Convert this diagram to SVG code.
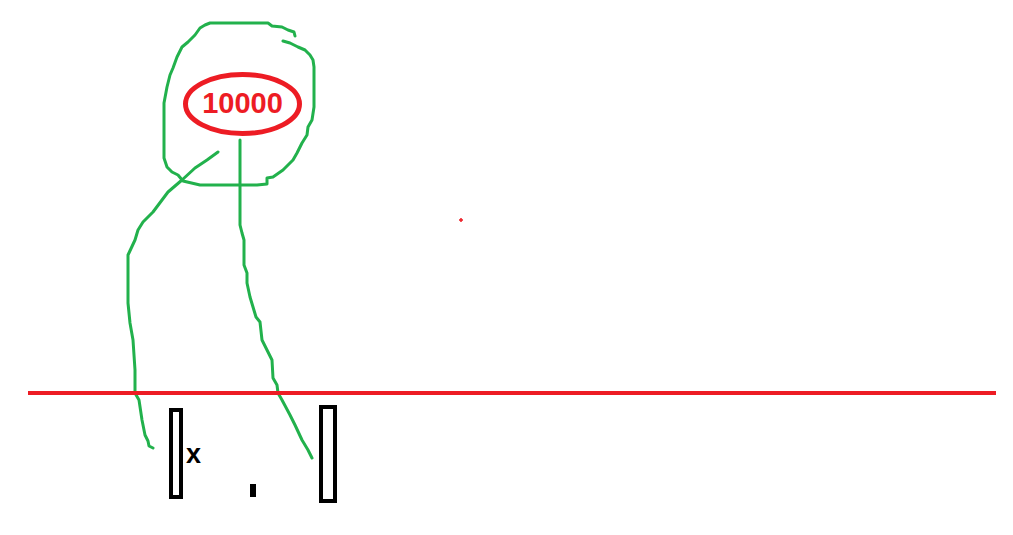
<svg xmlns="http://www.w3.org/2000/svg" width="1013" height="535" viewBox="0 0 1013 535">
<style>
.g{fill:none;stroke:#22B14C;stroke-width:3;stroke-linejoin:round;stroke-linecap:round}
.r{fill:none;stroke:#ED1C24}
.b{fill:none;stroke:#000;stroke-width:4}
.t{font-family:"Liberation Sans",Arial,sans-serif;font-weight:bold}
</style>
<rect width="1013" height="535" fill="#fff"/>
<g id="connectors">
<path class="g" d="M218,152 L207,160 L195,168 L182,180 L168,192 L153,212 L143,222 L138,230 L135,240 L128,255 L128,303 L130,323 L133,340 L135,370 L135,393 L139,400 L142,420 L145,435 L148,441 L149,446 L153,448"/>
<path class="g" d="M240,140 L240,225 L242,233 L244,240 L244,265 L247,273 L247,283 L250,297 L253,307 L256,317 L260,322 L262,340 L267,350 L272,360 L273,378 L277,385 L278,393 L282,400 L290,415 L295,425 L302,440 L308,450 L312,458"/>
</g>
<g id="loop">
<path class="g" d="M295,36 L294,32 L288,30 L282,27 L272,26 L268,23 L210,23 L205,25 L200,28 L195,35 L188,42 L182,47 L177,57 L173,68 L170,75 L167,87 L164,103 L164,158 L167,167 L172,172 L178,175 L183,181 L200,185 L257,185 L267,184 L267,178 L273,177 L283,170 L293,160 L297,153 L302,143 L307,135 L308,127 L312,120 L314,107 L314,67 L313,60 L310,55 L305,50 L298,47 L290,43 L283,41"/>
</g>
<g id="node-10000">
<ellipse class="r" cx="242.5" cy="104" rx="57" ry="29.5" stroke-width="5"/>
<text class="t" x="242.5" y="113" font-size="29" fill="#ED1C24" text-anchor="middle">10000</text>
</g>
<g id="axis">
<line class="r" x1="28" y1="393" x2="996" y2="393" stroke-width="4"/>
</g>
<g id="left-bar">
<rect class="b" x="171" y="410" width="10" height="87"/>
</g>
<g id="label-x">
<text class="t" x="186" y="463" font-size="27" fill="#000">x</text>
</g>
<g id="dot">
<rect x="250" y="484" width="6" height="13" fill="#000"/>
</g>
<g id="right-bar">
<rect class="b" x="321" y="407" width="14" height="94"/>
</g>
<g id="red-mark">
<path d="M459,220 L463,220 M461,218 L461,222" stroke="#ED1C24" stroke-width="1.5" fill="none"/>
</g>
</svg>
